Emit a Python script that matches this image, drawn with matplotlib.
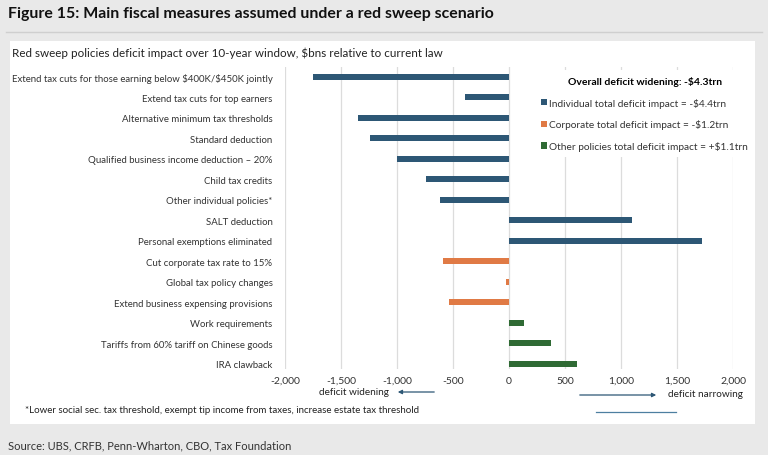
import matplotlib.pyplot as plt
from matplotlib.patches import Patch, Rectangle, FancyArrowPatch
from matplotlib.lines import Line2D

plt.rcParams['font.family'] = ['Lato', 'DejaVu Sans']

# policy labels, top to bottom
policies = [
    r"Extend tax cuts for those earning below \$400K/\$450K jointly",
    "Extend tax cuts for top earners",
    "Alternative minimum tax thresholds",
    "Standard deduction",
    "Qualified business income deduction \u2013 20%",
    "Child tax credits",
    "Other individual policies*",
    "SALT deduction",
    "Personal exemptions eliminated",
    "Cut corporate tax rate to 15%",
    "Global tax policy changes",
    "Extend business expensing provisions",
    "Work requirements",
    "Tariffs from 60% tariff on Chinese goods",
    "IRA clawback",
]
# deficit impact, $bn over 10 years
impact = [-1750, -390, -1350, -1240, -1000, -740, -620, 1100, 1720,
          -590, -25, -535, 135, 378, 605]
group = ["ind"] * 9 + ["corp"] * 3 + ["other"] * 3

group_colors = {"ind": "#2d5775", "corp": "#e07a45", "other": "#2f6a34"}
legend_labels = [
    r"Individual total deficit impact = -\$4.4trn",
    r"Corporate total deficit impact = -\$1.2trn",
    r"Other policies total deficit impact = +\$1.1trn",
]
xticks = [-2000, -1500, -1000, -500, 0, 500, 1000, 1500, 2000]

W, H = 768, 456
fig = plt.figure(figsize=(W / 100, H / 100), dpi=100)
fig.patch.set_facecolor("#e9e9e9")

def fx(px):
    return px / W

def fy(py):
    return 1 - py / H

# white panel behind the chart
panel = Rectangle((fx(10), fy(425)), fx(745), 383 / H,
                  transform=fig.transFigure, facecolor="white",
                  edgecolor="none", zorder=-1)
fig.add_artist(panel)
fig.add_artist(Line2D([fx(6), fx(762)], [fy(33), fy(33)],
                      color="#cfcfcf", lw=1))

fig.text(fx(8), fy(14), "Figure 15: Main fiscal measures assumed under a red sweep scenario",
         fontsize=11.4, fontweight="bold", va="center", color="#111111")
fig.text(fx(12), fy(53),
         r"Red sweep policies deficit impact over 10-year window, \$bns relative to current law",
         fontsize=8.4, va="center", color="#222222")

ax = fig.add_axes([fx(285), fy(370), fx(733 - 285), 302 / H])
ax.set_zorder(2)
ax.set_facecolor("none")
ypos = list(range(len(policies)))
ax.barh(ypos, impact, height=0.3,
        color=[group_colors[g] for g in group], zorder=3)
ax.set_xlim(-2000, 2000)
ax.set_ylim(14.25, -0.48)
ax.set_xticks(xticks)
ax.set_xticklabels([f"{v:,}" for v in xticks], fontsize=7.5, color="#333333")
ax.set_yticks(ypos)
ax.set_yticklabels(policies, fontsize=6.95, color="#333333")
ax.tick_params(length=0, pad=9)
ax.tick_params(axis="x", pad=5)
ax.grid(axis="x", color="#dcdcdc", lw=0.9, zorder=0)
for s in ax.spines.values():
    s.set_visible(False)

handles = [Patch(facecolor=group_colors[k], edgecolor="none") for k in ("ind", "corp", "other")]
leg = ax.legend(handles, legend_labels, title=r"Overall deficit widening: -\$4.3trn",
                loc="upper left", bbox_to_anchor=(fx(530), fy(66)),
                bbox_transform=fig.transFigure, fontsize=7.3, frameon=True,
                handlelength=0.6, handleheight=0.6, handletextpad=0.2,
                labelspacing=1.15, borderpad=0.6, alignment="center")
leg.get_title().set_fontweight("bold")
leg.get_title().set_fontsize(7.5)
leg.get_frame().set_facecolor("white")
leg.get_frame().set_edgecolor("none")
leg.get_frame().set_alpha(1)
leg.set_zorder(5)
for t in leg.get_texts():
    t.set_color("#333333")

# direction arrows
fig.text(fx(389), fy(393), "deficit widening", fontsize=7.2, ha="right", va="center", color="#222222")
fig.add_artist(FancyArrowPatch(
    (fx(437), fy(393)), (fx(395), fy(393)), transform=fig.transFigure,
    arrowstyle="-|>", mutation_scale=6, color="#2d5775", lw=0.9))
fig.text(fx(668), fy(395), "deficit narrowing", fontsize=7.2, ha="left", va="center", color="#222222")
fig.add_artist(FancyArrowPatch(
    (fx(577), fy(396)), (fx(659), fy(396)), transform=fig.transFigure,
    arrowstyle="-|>", mutation_scale=6, color="#2d5775", lw=0.9))
fig.add_artist(Line2D([fx(596), fx(676)], [fy(413), fy(413)], color="#4d7fa0", lw=0.9))

fig.text(fx(25), fy(411),
         "*Lower social sec. tax threshold, exempt tip income from taxes, increase estate tax threshold",
         fontsize=7.0, va="center", color="#222222")
fig.text(fx(8), fy(446), "Source: UBS, CRFB, Penn-Wharton, CBO, Tax Foundation",
         fontsize=8, va="center", color="#333333")

fig.savefig("out.png", dpi=100, facecolor=fig.get_facecolor())
